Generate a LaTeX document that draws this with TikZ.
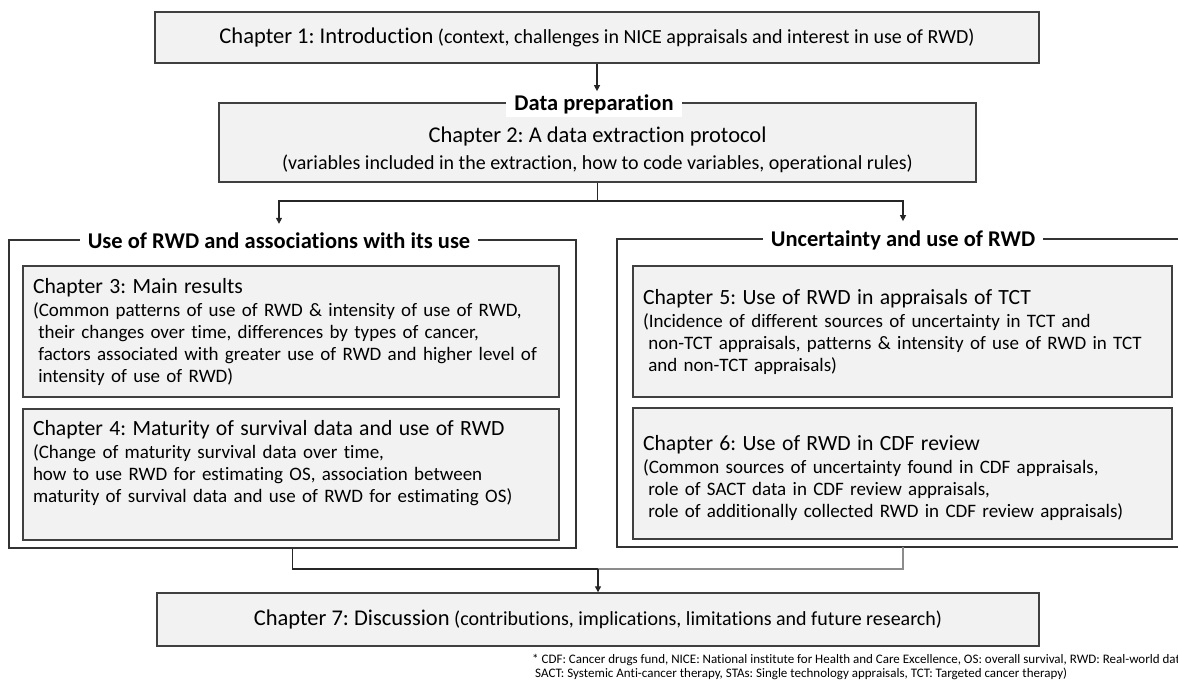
\documentclass[tikz,border=0pt]{standalone}
\usepackage{fontspec}
\setmainfont{Carlito}[Ligatures={TeX,NoCommon}]
\usetikzlibrary{arrows.meta}
\definecolor{boxGray}{RGB}{242,242,242}
\definecolor{edgeGray}{RGB}{64,64,64}
\definecolor{linkGray}{RGB}{140,140,140}
\newcommand{\chapfont}{\fontsize{22.5}{25}\selectfont}
\newcommand{\notefont}{\fontsize{20}{22.5}\selectfont}
\newcommand{\halfhead}{\fontsize{21.7}{24}\selectfont}
\newcommand{\halffont}{\fontsize{19}{22}\selectfont}
\newcommand{\nsp}{\hspace*{.28em}}
\frenchspacing

\begin{document}
\begin{tikzpicture}[x=1pt, y=-1pt,
  chap/.style={draw=edgeGray, line width=1.4pt, fill=boxGray, inner sep=0pt, align=center, font=\notefont},
  half/.style={chap, align=left, text width=519pt, inner xsep=10pt, minimum height=131pt, font=\halffont},
  grp/.style={draw=black!80, line width=1.2pt, minimum height=308pt},
  ttl/.style={fill=white, inner xsep=8pt, inner ysep=3pt, font=\chapfont\bfseries},
  link/.style={draw=black!85, line width=1.3pt},
  arr/.style={-{Triangle[length=6pt,width=6pt]}},
]
  \useasboundingbox (0,0) rectangle (1178,683);
  \clip (0,0) rectangle (1178,683);

  \node[chap, minimum width=884pt, minimum height=51pt] (ch1) at (597,37.5)
    {{\chapfont Chapter 1: Introduction} (context, challenges in NICE appraisals and interest in use of RWD)};

  \node[chap, minimum width=757pt, minimum height=79pt] (prep) at (597.5,142.5)
    {\rule{0pt}{30pt}{\chapfont Chapter 2: A data extraction protocol}\\[5pt]
     (variables included in the extraction, how to code variables, operational rules)};
  \node[ttl] (prepT) at (594,104) {Data preparation};

  \node[grp, minimum width=567pt] (grpL) at (292.5,394) {};
  \node[grp, minimum width=600pt] (grpR) at (917,393) {};
  \node[ttl] (ttlL) at (279,241) {Use of RWD and associations with its use};
  \node[ttl] (ttlR) at (903,240) {Uncertainty and use of RWD};

  \node[half, text width=516pt] (ch3) at (291,331.5)
    {{\halfhead Chapter 3: Main results}\\[1pt]
     (Common patterns of use of RWD \& intensity of use of RWD,\\
     \nsp their changes over time, differences by types of cancer,\\
     \nsp factors associated with greater use of RWD and higher level of\\
     \nsp intensity of use of RWD)};
  \node[half, text width=516pt] (ch4) at (291,474.5)
    {{\halfhead Chapter 4: Maturity of survival data and use of RWD}\\[1pt]
     (Change of maturity survival data over time,\\
     how to use RWD for estimating OS, association between\\
     maturity of survival data and use of RWD for estimating OS)\rule[-26pt]{0pt}{26pt}};
  \node[half] (ch5) at (902.5,331.5)
    {{\halfhead Chapter 5: Use of RWD in appraisals of TCT}\\[1pt]
     (Incidence of different sources of uncertainty in TCT and\\
     \nsp non-TCT appraisals, patterns \& intensity of use of RWD in TCT\\
     \nsp and non-TCT appraisals)};
  \node[half] (ch6) at (902.5,473.5)
    {\rule{0pt}{24pt}{\halfhead Chapter 6: Use of RWD in CDF review}\\[1pt]
     (Common sources of uncertainty found in CDF appraisals,\\
     \nsp role of SACT data in CDF review appraisals,\\
     \nsp role of additionally collected RWD in CDF review appraisals)};

  \node[chap, minimum width=882pt, minimum height=53pt] (ch7) at (598,619.5)
    {{\chapfont Chapter 7: Discussion} (contributions, implications, limitations and future research)};

  \node[anchor=north west, inner sep=0pt, align=left, font=\fontsize{13}{14.5}\selectfont] (note) at (532,654)
    {* CDF: Cancer drugs fund, NICE: National institute for Health and Care Excellence, OS: overall survival, RWD: Real-world data\\
     \hspace*{3pt}SACT: Systemic Anti-cancer therapy, STAs: Single technology appraisals, TCT: Targeted cancer therapy)};

  \coordinate (split) at (597.5,201);
  \coordinate (join) at (598,569);
  \coordinate (outR) at (903,547);

  \draw[link, arr] (ch1.south) -- (ch1.south |- prepT.north);
  \draw[link] (prep.south) -- (split);
  \draw[link, arr, shorten >=6pt] (split) -| (ttlL.north);
  \draw[link, arr, shorten >=6pt] (split) -| (ttlR.north);
  \draw[link] (grpL.south) |- (join);
  \draw[link, draw=linkGray] (outR) |- (join);
  \draw[link, arr] (join) -- (ch7);
\end{tikzpicture}
\end{document}
